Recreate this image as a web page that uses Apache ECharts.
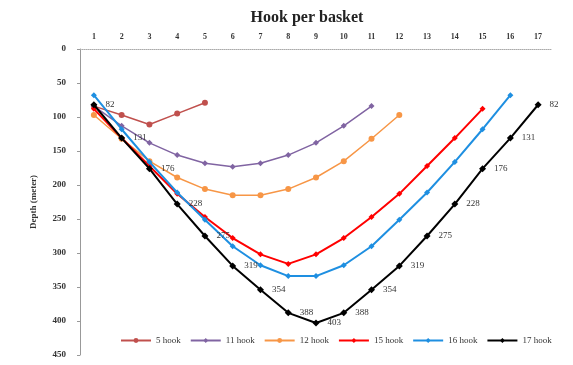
<!DOCTYPE html>
<html><head><meta charset="utf-8">
<script src="https://cdn.jsdelivr.net/npm/echarts@6/dist/echarts.min.js"></script>
<style>html,body{margin:0;padding:0;background:#fff}#c{width:573px;height:365px}</style>
</head><body><div id="c"></div>
<script>
const categories = ['1','2','3','4','5','6','7','8','9','10','11','12','13','14','15','16','17'];
const hook5  = [84, 97, 111, 95, 79];
const hook11 = [84, 113, 138, 156, 168, 173, 168, 156, 138, 113, 84];
const hook12 = [97, 132, 165, 189, 206, 215, 215, 206, 189, 165, 132, 97];
const hook15 = [88, 131, 172, 213, 247, 278, 302, 316, 302, 278, 247, 213, 172, 131, 88];
const hook16 = [68, 118, 166, 211, 251, 290, 318, 334, 334, 318, 290, 251, 211, 166, 118, 68];
const hook17 = [82, 131, 176, 228, 275, 319, 354, 388, 403, 388, 354, 319, 275, 228, 176, 131, 82];
const seriesNames = ['5 hook','11 hook','12 hook','15 hook','16 hook','17 hook'];
const colors = ['#C0504D','#8064A2','#F79646','#FF0000','#1E8FE1','#000000'];
const symbols = ['circle','diamond','circle','diamond','diamond','diamond'];
const datas = [hook5, hook11, hook12, hook15, hook16, hook17];

const chart = echarts.init(document.getElementById('c'));
const font = 'Liberation Serif, Times New Roman, serif';
chart.setOption({
  animation: false,
  backgroundColor: '#fff',
  title: {text: 'Hook per basket', left: 302, top: 5, textAlign: 'center',
    textStyle: {fontFamily: font, fontSize: 16, fontWeight: 'bold', color: '#222'}},
  legend: {
    data: seriesNames, left: 115, top: 331, itemWidth: 30, itemHeight: 6, itemGap: 9,
    textStyle: {fontFamily: font, fontSize: 9, color: '#333'}
  },
  grid: {left: 80, right: 21, top: 49, bottom: 10},
  xAxis: {
    type: 'category', position: 'top', data: categories, boundaryGap: true,
    axisLine: {lineStyle: {color: '#aaa', type: 'dotted'}}, axisTick: {show: false},
    axisLabel: {fontFamily: font, fontSize: 8, fontWeight: 'bold', color: '#333', margin: 8}
  },
  yAxis: {
    type: 'value', inverse: true, min: 0, max: 450, interval: 50,
    name: 'Depth (meter)', nameLocation: 'middle', nameGap: 42, nameRotate: 90,
    nameTextStyle: {fontFamily: font, fontSize: 9, fontWeight: 'bold', color: '#333'},
    axisLine: {show: true, lineStyle: {color: '#999'}},
    axisTick: {show: true, inside: false, length: 3, lineStyle: {color: '#999'}},
    splitLine: {show: false},
    axisLabel: {fontFamily: font, fontSize: 9, fontWeight: 'bold', color: '#333', margin: 14}
  },
  series: datas.map((d, i) => ({
    name: seriesNames[i], type: 'line', data: d,
    symbol: symbols[i], symbolSize: i === 5 ? 7 : 6,
    lineStyle: {color: colors[i], width: i >= 3 ? 2 : 1.5},
    itemStyle: {color: colors[i]},
    label: i === 5 ? {show: true, position: 'right', distance: 8, fontFamily: font, fontSize: 9, color: '#333'} : {show: false},
    z: 2 + i
  }))
});
</script></body></html>
